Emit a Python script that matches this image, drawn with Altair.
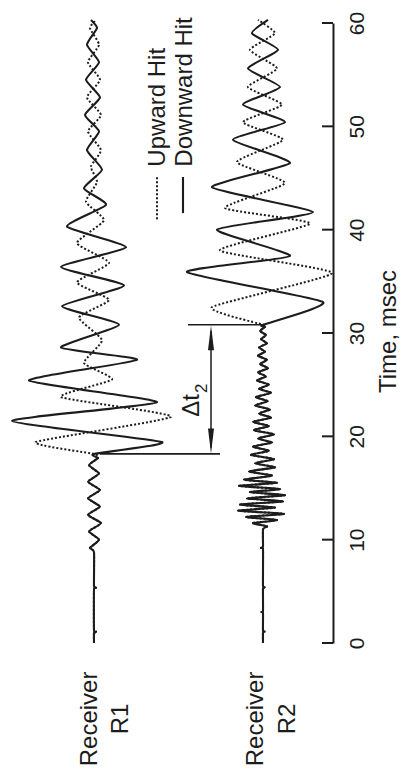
import altair as alt
import pandas as pd

# ---------------------------------------------------------------
# Waveforms recorded at two receivers, upward vs downward hit.
# Time in msec, amplitude as horizontal offset from each trace's
# resting position (the whole figure is drawn turned on its side).
# ---------------------------------------------------------------
R1_BASE = 94
R2_BASE = 263
R1_ONSET = 18.3
R2_ONSET = 30.8

# Receiver R1: quiet leader shared by both hits
r1_pre_t = [0.0, 1.0, 1.1, 1.2, 5.2, 5.35, 5.5, 8.8, 9.2, 10.0, 10.8, 11.6,
            12.4, 13.2, 14.0, 14.8, 15.6, 16.4, 17.2, 17.9]
r1_pre_a = [0, 0, 2, 0, 0, 2, 0, 0, -4, 5, -5, 7, -6, 6, -6, 6, -6, 5, -5, 4]

# Receiver R1 after arrival
r1_down_t = [18.3, 19.45, 21.5, 23.3, 25.4, 27.4, 28.6, 30.8, 32.6, 34.6,
             36.4, 38.3, 40.3, 42.4, 44.0, 45.8, 47.7, 49.5, 51.1, 52.8,
             54.5, 56.2, 57.9, 59.5, 60.3]
r1_down_a = [0, 68, -82, 63, -65, 43, -33, 25, -32, 30, -33, 32, -27, 12,
             -10, 8, -7, 5, -9, 6, -8, 5, -7, 3, -3]
r1_up_t = [18.3, 19.45, 21.9, 23.8, 25.5, 27.1, 29.3, 31.5, 33.2, 34.9,
           36.8, 38.7, 40.9, 42.7, 44.6, 46.1, 47.7, 49.5, 51.1, 52.8,
           54.5, 56.2, 57.9, 59.5, 60.3]
r1_up_a = [0, -58, 77, -33, 18, -10, 8, -15, 15, -17, 15, -17, 10, -8, 3,
           -3, 7, -6, 7, -7, 6, -6, 5, -4, 2]

# Receiver R2: flat start, then a burst of high-frequency noise
r2_pre_t = [0.0, 1.0, 1.1, 1.2, 2.9, 3.0, 3.1, 5.3, 5.4, 5.5, 9.1, 9.2,
            9.3, 11.0]
r2_pre_a = [0, 0, 1.5, 0, 0, -1.5, 0, 0, 1.5, 0, 0, -2, 0, 0]
r2_noise_t = [11.3, 11.6, 11.9, 12.2, 12.5, 12.8, 13.1, 13.4, 13.7, 14.0,
              14.3, 14.6, 14.9, 15.2, 15.5, 15.8, 16.2, 16.6, 17.0, 17.4,
              17.8, 18.2, 18.6, 19.0, 19.4, 19.8, 20.2, 20.6, 21.0, 21.4,
              21.8, 22.2, 22.6, 23.0, 23.4, 23.8, 24.2, 24.6, 25.0, 25.4,
              25.8, 26.2, 26.6, 27.0, 27.4, 27.8, 28.2, 28.6, 29.0, 29.4,
              29.8, 30.2, 30.6]
r2_noise_a = [4, -10, 14, -17, 21, -25, 12, -23, 20, -16, 22, -13, 17, -24,
              14, -19, 9, -14, 12, -8, 11, -12, 6, -10, 9, -5, 11, -9, 6,
              -10, 8, -4, 7, -8, 5, -7, 8, -4, 6, -6, 3, -5, 5, -3, 4, -5, 2,
              -4, 4, -2, 3, -3, 2]

# Receiver R2 after arrival
r2_down_t = [30.8, 33.0, 35.9, 37.45, 40.0, 41.7, 44.1, 46.45, 48.7, 50.4,
             52.1, 53.8, 55.6, 57.4, 59.0, 60.3]
r2_down_a = [0, 60, -76, 27, -46, 50, -51, 27, -30, 22, -20, 17, -15, 15,
             -11, 5]
r2_up_t = [30.8, 32.5, 35.8, 38.0, 40.6, 42.1, 44.5, 46.55, 48.7, 50.4,
           52.1, 53.8, 55.6, 57.4, 59.0, 60.3]
r2_up_a = [0, -51, 69, -43, 47, -38, 22, -26, 20, -20, 19, -15, 14, -13,
           12, -5]

time_ticks = [0, 10, 20, 30, 40, 50, 60]

INK = "#1c1c1c"
FONT = "Liberation Sans"
CURVE = "cardinal"
TENSION = 0.5


def trace(name, hit, base, parts):
    rows = []
    for ts, amps in parts:
        for t, a in zip(ts, amps):
            rows.append({"t": t, "x": base + a, "series": name, "hit": hit})
    return rows


rows = []
rows += trace("R1 down", "Downward Hit", R1_BASE,
              [(r1_pre_t, r1_pre_a), (r1_down_t, r1_down_a)])
rows += trace("R1 up", "Upward Hit", R1_BASE,
              [(r1_pre_t, r1_pre_a), (r1_up_t, r1_up_a)])
rows += trace("R2 down", "Downward Hit", R2_BASE,
              [(r2_pre_t, r2_pre_a), (r2_noise_t, r2_noise_a),
               (r2_down_t, r2_down_a)])
rows += trace("R2 up", "Upward Hit", R2_BASE,
              [(r2_pre_t, r2_pre_a), (r2_noise_t, r2_noise_a),
               (r2_up_t, r2_up_a)])
df = pd.DataFrame(rows)

x_scale = alt.Scale(domain=[0, 333], nice=False, zero=False)
y_scale = alt.Scale(domain=[0, 60], nice=False, zero=False)

time_axis = alt.Axis(
    orient="right",
    values=time_ticks,
    ticks=False,
    tickSize=0,
    grid=False,
    domain=True,
    domainColor=INK,
    domainWidth=2,
    labelAngle=270,
    labelAlign="center",
    labelBaseline="alphabetic",
    labelPadding=30,
    labelFont=FONT,
    labelFontSize=21,
    labelColor=INK,
    labelFlush=False,
    labelOverlap=False,
    labelBound=False,
    title="Time, msec",
    titleAngle=270,
    titleAlign="center",
    titleBaseline="alphabetic",
    titleX=62,
    titleY=308,
    titleFont=FONT,
    titleFontSize=24,
    titleFontWeight="normal",
    titleColor=INK,
)

upward = alt.Chart(df[df.hit == "Upward Hit"]).mark_line(
    color=INK, strokeWidth=2.0, strokeDash=[2, 2],
    interpolate=CURVE, tension=TENSION,
).encode(
    x=alt.X("x:Q", scale=x_scale, axis=None),
    y=alt.Y("t:Q", scale=y_scale, axis=time_axis),
    detail="series:N",
    order="t:Q",
)

downward = alt.Chart(df[df.hit == "Downward Hit"]).mark_line(
    color=INK, strokeWidth=2.1, interpolate=CURVE, tension=TENSION,
).encode(
    x=alt.X("x:Q", axis=None),
    y=alt.Y("t:Q"),
    detail="series:N",
    order="t:Q",
)

# inward tick marks on the time axis
ticks = alt.Chart(pd.DataFrame({"v": time_ticks})).mark_rule(
    color=INK, strokeWidth=2
).encode(
    y=alt.Y("v:Q"),
    x=alt.datum(322),
    x2=alt.datum(333),
)

# first-arrival markers and the delay between them
onset_r1 = alt.Chart().mark_rule(color=INK, strokeWidth=1.6).encode(
    y=alt.datum(R1_ONSET), x=alt.datum(R1_BASE + 6), x2=alt.datum(220)
)
onset_r2 = alt.Chart().mark_rule(color=INK, strokeWidth=1.6).encode(
    y=alt.datum(R2_ONSET), x=alt.datum(188), x2=alt.datum(R2_BASE)
)
ARROW_X = 211
shaft = alt.Chart().mark_rule(color=INK, strokeWidth=1.5).encode(
    x=alt.datum(ARROW_X), y=alt.datum(R1_ONSET + 0.6), y2=alt.datum(R2_ONSET - 0.6)
)
HEAD = "M -0.24 1 L 0 -1 L 0.24 1 Z"
head_up = alt.Chart().mark_point(
    shape=HEAD, size=625, filled=True, color=INK, opacity=1, strokeWidth=0
).encode(x=alt.datum(ARROW_X), y=alt.datum(R2_ONSET - 1.25))
head_down = alt.Chart().mark_point(
    shape=HEAD, size=625, filled=True, color=INK, opacity=1, strokeWidth=0,
    angle=180,
).encode(x=alt.datum(ARROW_X), y=alt.datum(R1_ONSET + 1.25))

delta_main = alt.Chart().mark_text(
    text="\u0394t", angle=270, align="left", baseline="alphabetic",
    font=FONT, fontSize=24, color=INK,
).encode(x=alt.datum(199), y=alt.datum(21.9))
delta_sub = alt.Chart().mark_text(
    text="2", angle=270, align="left", baseline="alphabetic",
    font=FONT, fontSize=17, color=INK,
).encode(x=alt.datum(207), y=alt.datum(24.2))

# legend
leg_up_line = alt.Chart().mark_rule(
    color=INK, strokeWidth=2.0, strokeDash=[2, 2]
).encode(x=alt.datum(157), y=alt.datum(41.0), y2=alt.datum(45.1))
leg_down_line = alt.Chart().mark_rule(color=INK, strokeWidth=2.1).encode(
    x=alt.datum(183), y=alt.datum(41.6), y2=alt.datum(45.1)
)
leg_up_text = alt.Chart().mark_text(
    text="Upward Hit", angle=270, align="left", baseline="alphabetic",
    font=FONT, fontSize=24, color=INK,
).encode(x=alt.datum(165), y=alt.datum(46.1))
leg_down_text = alt.Chart().mark_text(
    text="Downward Hit", angle=270, align="left", baseline="alphabetic",
    font=FONT, fontSize=24, color=INK,
).encode(x=alt.datum(192), y=alt.datum(46.1))

# receiver names under each trace
LABEL_T = -7.35


def receiver_label(text, xpos):
    return alt.Chart().mark_text(
        text=text, angle=270, align="center", baseline="alphabetic",
        font=FONT, fontSize=24, color=INK,
    ).encode(x=alt.datum(xpos), y=alt.datum(LABEL_T))


labels = [
    receiver_label("Receiver", R1_BASE + 3),
    receiver_label("R1", R1_BASE + 34),
    receiver_label("Receiver", R2_BASE),
    receiver_label("R2", R2_BASE + 32),
]

chart = alt.layer(
    upward, downward, ticks, onset_r1, onset_r2, shaft, head_up, head_down,
    delta_main, delta_sub, leg_up_line, leg_down_line, leg_up_text,
    leg_down_text, *labels,
).properties(
    width=333,
    height=620,
    autosize=alt.AutoSizeParams(type="none"),
    padding={"left": 0, "top": 23, "right": 68, "bottom": 130},
    background="white",
).configure_view(stroke=None)

chart.save("out.html", embed_options={"renderer": "svg", "actions": False})
